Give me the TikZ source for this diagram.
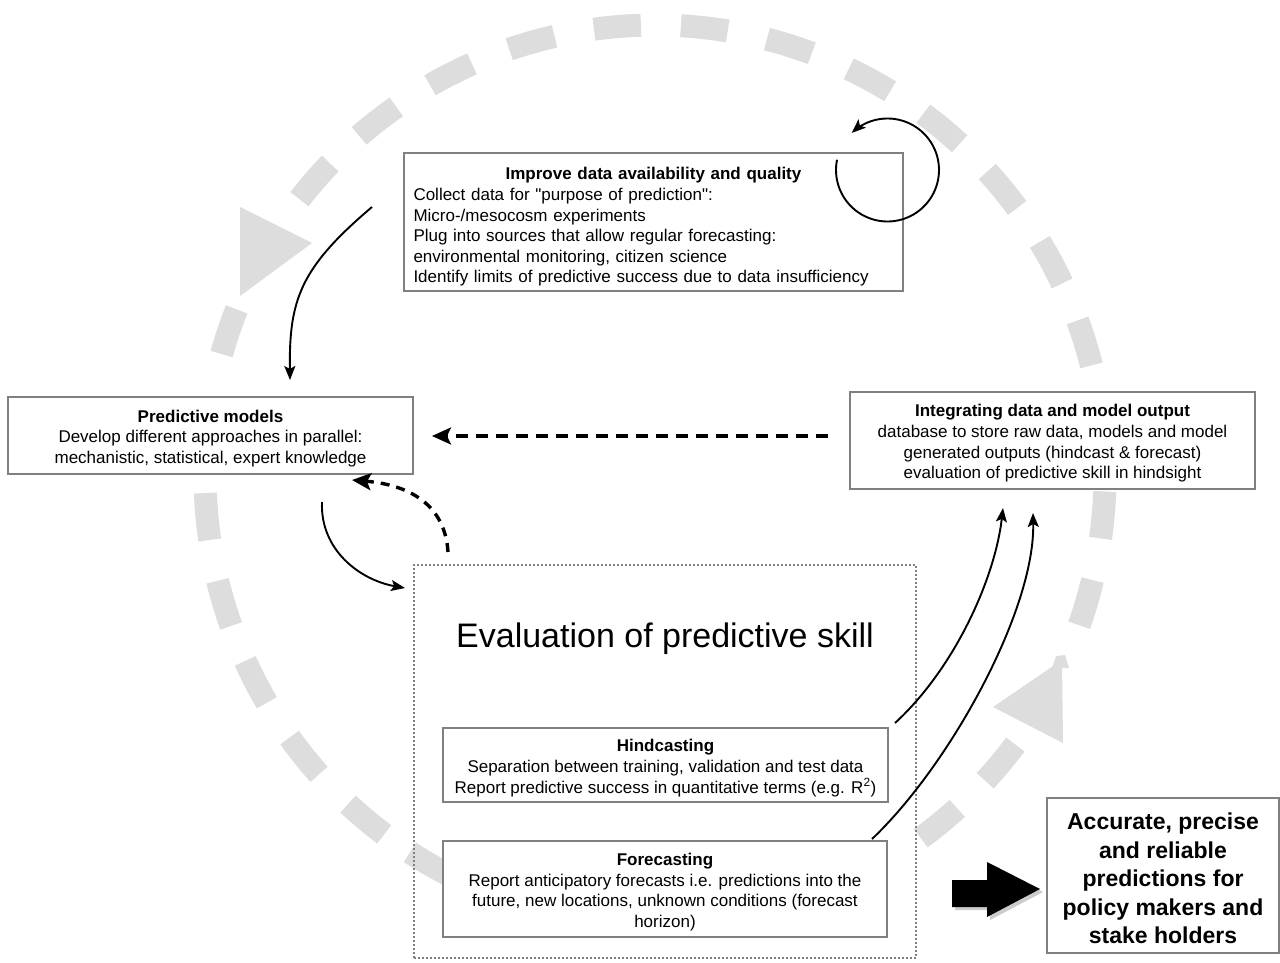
\documentclass[tikz,border=0pt]{standalone}
\usepackage{fontspec}
\setmainfont{Liberation Sans}
\usetikzlibrary{arrows.meta}
\definecolor{ringgray}{HTML}{DDDDDD}
\definecolor{boxgray}{HTML}{808080}
\begin{document}
\begin{tikzpicture}[x=1pt,y=-1pt,
  >={Stealth[length=14pt,width=11pt,inset=3pt]},
  box/.style={draw=boxgray,line width=2.4pt,fill=white,inner sep=0pt},
  boxtext/.style={inner sep=0pt,align=center,yshift=-3pt,font=\fontsize{17}{20.6}\selectfont},
  evalbox/.style={draw=boxgray,line width=1.6pt,dash pattern=on 1.6pt off 2.4pt,inner sep=0pt},
  conn/.style={line width=1.9pt},
  dconn/.style={line width=3.4pt,dash pattern=on 12pt off 8pt,>={Stealth[length=19pt,width=17pt,inset=4pt]}},
  ringdash/.style={ringgray,line width=23pt},
  ringtip/.style={fill=ringgray}]
\useasboundingbox (0,0) rectangle (1280,963);
\fill[white] (0,0) rectangle (1280,963);

% dashed grey ring
\foreach \a [evaluate=\a as \s using \a-3, evaluate=\a as \e using \a+3] in
  {5.1,-6,-17.1,-28.2,-39.4,-50.4,-61.5,-72.6,-83.7,-94.8,-105.9,-117,-128.1,-139.2,-161.4,-173.5,174.7,163.4,152.6,141.3,130,120,109,98,87,76,65,50.8,39.8,16.5}{
  \draw[ringdash] plot[domain=\s:\e,samples=7] ({655+450*cos(\x)},{475+450*sin(\x)});
}
\fill[ringtip] (240,207) -- (312,243) -- (240,296) -- cycle;
\fill[ringtip] (993,707) -- (1062,660) -- (1063,743) -- cycle;
\fill[ringtip] (1052,668) -- (1056,656) -- (1065,655) -- (1069,668) -- cycle;

% evaluation frame
\node[evalbox,minimum width=502pt,minimum height=393pt] (eval) at (665,761.5) {};
\node[inner sep=0pt,font=\fontsize{34}{40}\selectfont] (evalT) at (665,639) {Evaluation of predictive skill};

% boxes
\node[box,minimum width=499pt,minimum height=138pt] (imp) at (653.5,222) {};
\node[boxtext,text width=480pt,align=left,yshift=-2pt] (impT) at (imp.center)
  {\noindent\makebox[480pt]{\bfseries Improve data availability and quality}\\
   Collect data for \textquotedbl purpose of prediction\textquotedbl:\\
   Micro-/mesocosm experiments\\
   Plug into sources that allow regular forecasting:\\
   environmental monitoring, citizen science\\
   Identify limits of predictive success due to data insufficiency};

\node[box,minimum width=405pt,minimum height=77pt] (pred) at (210.5,435.5) {};
\node[boxtext] (predT) at (pred.center)
  {\textbf{Predictive models}\\Develop different approaches in parallel:\\mechanistic, statistical, expert knowledge};

\node[box,minimum width=405pt,minimum height=97pt] (integ) at (1052.5,440.5) {};
\node[boxtext] (integT) at (integ.center)
  {\textbf{Integrating data and model output}\\database to store raw data, models and model\\generated outputs (hindcast \& forecast)\\evaluation of predictive skill in hindsight};

\node[box,minimum width=445pt,minimum height=74pt] (hind) at (665.5,765) {};
\node[boxtext] (hindT) at (hind.center)
  {\textbf{Hindcasting}\\Separation between training, validation and test data\\Report predictive success in quantitative terms (e.g. R\textsuperscript{2})};

\node[box,minimum width=444pt,minimum height=96pt] (fore) at (665,889) {};
\node[boxtext] (foreT) at (fore.center)
  {\textbf{Forecasting}\\Report anticipatory forecasts i.e. predictions into the\\future, new locations, unknown conditions (forecast\\horizon)};

\node[box,minimum width=232pt,minimum height=155pt] (acc) at (1163,875.5) {};
\node[boxtext,font=\fontsize{23}{28.5}\selectfont\bfseries] (accT) at (acc.center)
  {Accurate, precise\\and reliable\\predictions for\\policy makers and\\stake holders};

% connectors
\coordinate (a1) at (372,207); \coordinate (a2) at (290,380);
\draw[conn,->] (a1) .. controls (300,268) and (289,300) .. (a2);

\draw[conn,<-] plot[domain=-134:191.5,samples=90] ({887.5+51.5*cos(\x)},{170+51.5*sin(\x)});

\coordinate (b1) at (828,436); \coordinate (b2) at (432,436);
\draw[dconn,->] (b1) -- (b2);

\coordinate (d1) at (448,552); \coordinate (d2) at (352,480);
\draw[dconn,dash pattern=on 9pt off 7pt,->] (d1) .. controls (445,505) and (410,485) .. (d2);

\coordinate (e1) at (322,502); \coordinate (e2) at (405,588);
\draw[conn,->] (e1) .. controls (320,550) and (360,580) .. (e2);

\coordinate (f1) at (895,723); \coordinate (f2) at (1003,508);
\draw[conn,->] (f1) .. controls (955,668) and (995,578) .. (f2);

\coordinate (g1) at (872,839); \coordinate (g2) at (1033,513);
\draw[conn,->] (g1) .. controls (950,765) and (1035,610) .. (g2);

% big black arrow
\fill[black!20] (955,883) -- (990,883) -- (990,865) -- (1043,892) -- (990,920) -- (990,910) -- (955,910) -- cycle;
\fill[black] (952,880) -- (987,880) -- (987,862) -- (1040,889) -- (987,917) -- (987,907) -- (952,907) -- cycle;
\end{tikzpicture}
\end{document}
